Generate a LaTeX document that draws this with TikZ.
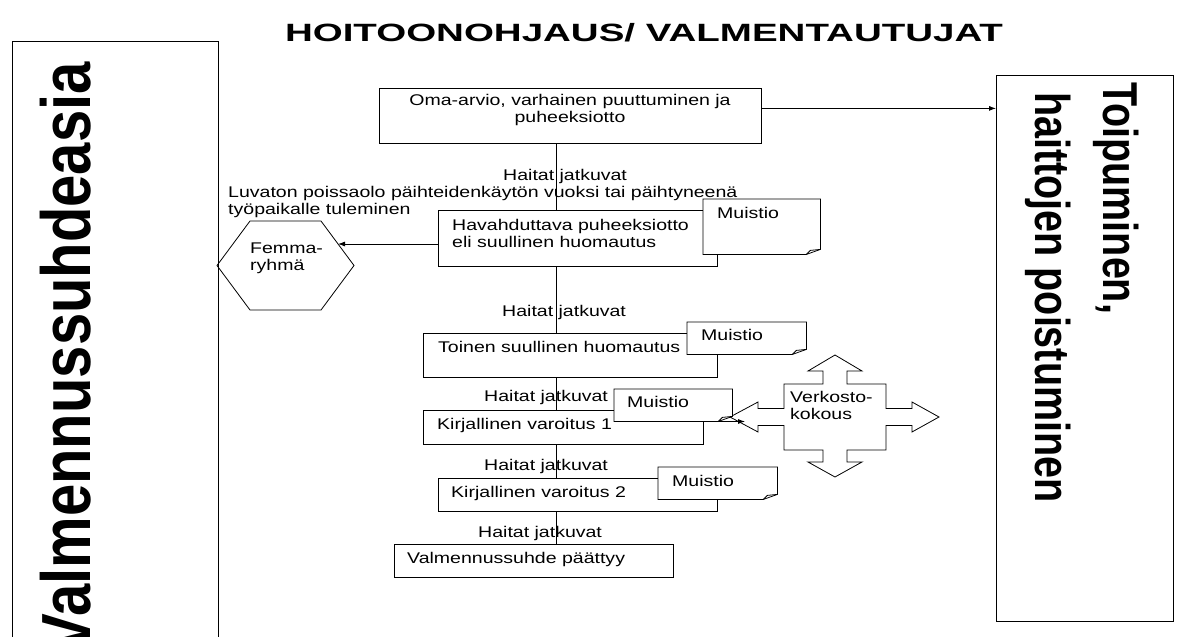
\documentclass[tikz,border=0pt]{standalone}
\usepackage{fontspec}
\setmainfont{Liberation Sans}
\newfontfamily\bodyf[FakeStretch=1.26]{Liberation Sans}
\newfontfamily\titlef[FakeStretch=1.54]{Liberation Sans}
\usetikzlibrary{arrows.meta}
\tikzset{
  ln/.style={line width=0.8pt},
  box/.style={ln, draw, inner sep=0pt},
  arr/.style={ln, -{Latex[length=7pt,width=5pt]}},
  txt/.style={inner sep=0pt, font=\bodyf\fontsize{15.5}{17}\selectfont, align=left},
}
\newcommand\memo[5]{%
  \node[inner sep=0pt, minimum width=#4pt, minimum height=#5pt, anchor=north west] (#1) at (#2,#3) {};
  \filldraw[ln, fill=white] (#1.north west) -- (#1.north east) -- ([yshift=5pt]#1.south east)
     -- ([xshift=-14pt]#1.south east) -- (#1.south west) -- cycle;
  \draw[ln] ([xshift=-14pt]#1.south east) -- ([xshift=-10pt,yshift=4pt]#1.south east) -- ([yshift=5pt]#1.south east);
}
\begin{document}
\begin{tikzpicture}[x=1pt,y=-1pt]
\useasboundingbox (0,0) rectangle (1178,637);
\clip (0,0) rectangle (1178,637);

% title
\node[anchor=base, inner sep=0pt, font=\titlef\bfseries\fontsize{25}{30}\selectfont] (title) at (644,41) {HOITOONOHJAUS/ VALMENTAUTUJAT};

% side boxes
\node[box, minimum width=206pt, minimum height=620pt, anchor=north west] (lbox) at (12,41) {};
\node[box, minimum width=177pt, minimum height=546pt, anchor=north west] (rbox) at (996,75) {};
\node[inner sep=0pt, anchor=base east, xscale=1.2, rotate=90, transform shape,
      font=\bfseries\fontsize{58}{60}\selectfont] (ltxt) at (90,62) {Valmennussuhdeasia};
\node[inner sep=0pt, anchor=base west, xscale=1.24, rotate=-90, transform shape,
      font=\bfseries\fontsize{39.5}{45}\selectfont] (rt1) at (1103,82) {Toipuminen,};
\node[inner sep=0pt, anchor=base west, xscale=1.24, rotate=-90, transform shape,
      font=\bfseries\fontsize{39.5}{45}\selectfont] (rt2) at (1035,92) {haittojen poistuminen};

% flow boxes
\node[box, minimum width=382pt, minimum height=55pt, anchor=north west] (b1) at (379,88) {};
\node[box, minimum width=279pt, minimum height=56pt, anchor=north west] (b2) at (438,210) {};
\node[box, minimum width=294pt, minimum height=44pt, anchor=north west] (b3) at (423,333) {};
\node[box, minimum width=280pt, minimum height=34pt, anchor=north west] (b4) at (423,410) {};
\node[box, minimum width=279pt, minimum height=33pt, anchor=north west] (b5) at (438,478) {};
\node[box, minimum width=279pt, minimum height=33pt, anchor=north west] (b6) at (394,544) {};

% hexagon
\draw[ln] (217,265.5) -- (250,221) -- (321,221) -- (354,265.5) -- (321,310) -- (250,310) -- cycle;
\coordinate (femhit) at (338,244);

% cross (Verkostokokous)
\begin{scope}[shift={(835,417)}]
\filldraw[ln, fill=white] (0,-62) -- (27,-46) -- (12,-46) -- (12,-33) -- (51,-33) -- (51,-8.5)
  -- (77,-8.5) -- (77,-15) -- (104,0) -- (77,15) -- (77,8.5) -- (51,8.5) -- (51,33)
  -- (12,33) -- (12,45) -- (27,45) -- (0,60) -- (-27,45) -- (-12,45) -- (-12,33)
  -- (-51,33) -- (-51,8.5) -- (-77,8.5) -- (-77,15) -- (-105,0) -- (-77,-15)
  -- (-77,-8.5) -- (-51,-8.5) -- (-51,-33) -- (-12,-33) -- (-12,-46) -- (-27,-46) -- cycle;
\end{scope}
\coordinate (crosshit) at (745,421.5);

% connectors
\coordinate (sp) at (556,0);
\draw[arr] ([yshift=7.5pt]b1.east) -- ([yshift=7.5pt]b1.east -| rbox.west);
\draw[ln] (b1.south -| sp) -- (b2.north -| sp);
\draw[ln] (b2.south -| sp) -- (b3.north -| sp);
\draw[ln] (b3.south -| sp) -- (b4.north -| sp);
\draw[ln] (b4.south -| sp) -- (b5.north -| sp);
\draw[ln] (b5.south -| sp) -- (b6.north -| sp);
\draw[arr] (b2.west |- femhit) -- (femhit);

% memos
\memo{n1}{703}{199}{117}{55}
\memo{n2}{687}{322}{119}{32}
\memo{n3}{614}{389}{118}{32}
\memo{n4}{658}{467}{119}{32}

\draw[arr] (b4.east |- crosshit) -- (crosshit);

% texts
\node[txt, align=center] (t1) at (570,110) {Oma-arvio, varhainen puuttuminen ja\\puheeksiotto};
\node[txt, anchor=west] (h1) at (503,176) {Haitat jatkuvat};
\node[txt, anchor=west] (luv) at (228,201.5) {Luvaton poissaolo päihteidenkäytön vuoksi tai päihtyneenä\\työpaikalle tuleminen};
\node[txt, anchor=west] (t2) at (452,233.5) {Havahduttava puheeksiotto\\eli suullinen huomautus};
\node[txt, anchor=west] (fem) at (250,258) {Femma-\\ryhmä};
\node[txt, anchor=west] (h2) at (502,312) {Haitat jatkuvat};
\node[txt, anchor=west] (t3) at (438,347) {Toinen suullinen huomautus};
\node[txt, anchor=west] (h3) at (484,397) {Haitat jatkuvat};
\node[txt, anchor=west] (t4) at (437,425) {Kirjallinen varoitus 1};
\node[txt, anchor=west] (h4) at (484,466) {Haitat jatkuvat};
\node[txt, anchor=west] (t5) at (451,493) {Kirjallinen varoitus 2};
\node[txt, anchor=west] (h5) at (478,533) {Haitat jatkuvat};
\node[txt, anchor=west] (t6) at (407,559) {Valmennussuhde päättyy};
\node[txt, anchor=west] (verk) at (790,405) {Verkosto-\\kokous};
\node[txt, anchor=west] (m1) at (717,213) {Muistio};
\node[txt, anchor=west] (m2) at (701,335) {Muistio};
\node[txt, anchor=west] (m3) at (627,402) {Muistio};
\node[txt, anchor=west] (m4) at (672,481) {Muistio};
\end{tikzpicture}
\end{document}
